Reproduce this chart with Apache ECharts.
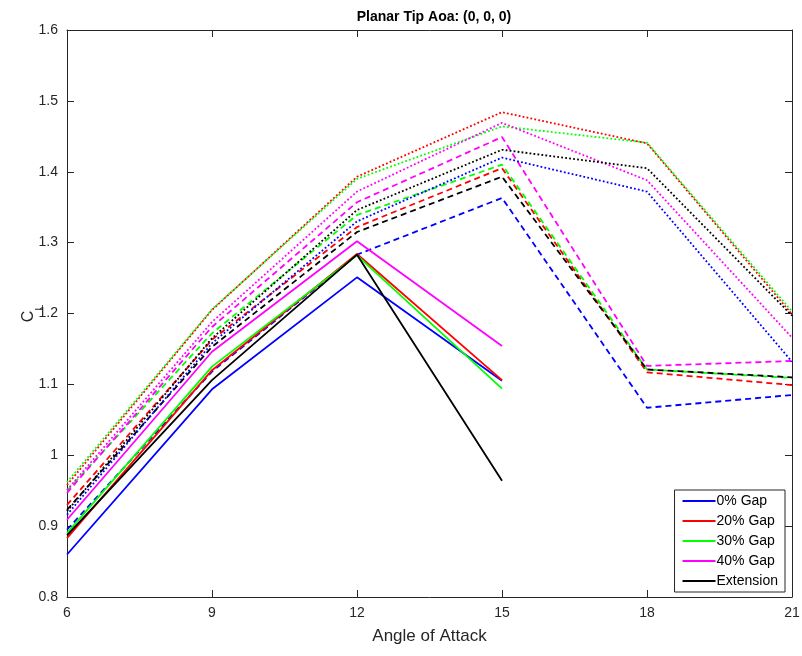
<!DOCTYPE html>
<html>
<head>
<meta charset="utf-8">
<script src="https://cdn.jsdelivr.net/npm/echarts@6/dist/echarts.min.js"></script>
<style>
  html, body { margin: 0; padding: 0; background: #fff; }
  #chart { width: 802px; height: 656px; }
</style>
</head>
<body>
<div id="chart"></div>
<script>
// angle of attack (deg)
var angles = [6, 9, 12, 15, 18, 21];

// solid lines (stop at 15 deg)
var gap0Solid  = [0.860, 1.093, 1.251, 1.105];
var gap20Solid = [0.883, 1.120, 1.284, 1.106];
var gap30Solid = [0.890, 1.125, 1.282, 1.094];
var gap40Solid = [0.909, 1.146, 1.302, 1.154];
var extSolid   = [0.887, 1.106, 1.283, 0.964];

// dashed lines
var gap0Dash  = [0.895, 1.118, 1.283, 1.363, 1.067, 1.085];
var gap20Dash = [0.930, 1.163, 1.322, 1.405, 1.117, 1.099];
var gap30Dash = [0.950, 1.172, 1.339, 1.410, 1.121, 1.109];
var gap40Dash = [0.947, 1.181, 1.357, 1.449, 1.126, 1.133];
var extDash   = [0.923, 1.153, 1.315, 1.393, 1.121, 1.110];

// dotted lines
var gap0Dot  = [0.916, 1.158, 1.330, 1.420, 1.372, 1.132];
var gap20Dot = [0.958, 1.205, 1.393, 1.484, 1.440, 1.199];
var gap30Dot = [0.962, 1.206, 1.390, 1.464, 1.441, 1.203];
var gap40Dot = [0.951, 1.188, 1.372, 1.469, 1.388, 1.166];
var extDot   = [0.921, 1.165, 1.346, 1.431, 1.405, 1.197];

var legendNames = ["0% Gap", "20% Gap", "30% Gap", "40% Gap", "Extension"];
var colors = ["#0000ff", "#ff0000", "#00ff00", "#ff00ff", "#000000"];

var FONT = "'Liberation Sans', Arial, Helvetica, sans-serif";
var AXIS_COLOR = "#262626";

function pairs(vals) {
  return vals.map(function (v, i) { return [angles[i], v]; });
}

function line(name, vals, color, dash) {
  return {
    name: name,
    type: "line",
    symbol: "none",
    silent: true,
    data: pairs(vals),
    itemStyle: { color: color },
    lineStyle: { color: color, width: 1.8, type: dash }
  };
}

var solids = [gap0Solid, gap20Solid, gap30Solid, gap40Solid, extSolid];
var dashes = [gap0Dash, gap20Dash, gap30Dash, gap40Dash, extDash];
var dots = [gap0Dot, gap20Dot, gap30Dot, gap40Dot, extDot];

var series = [];
dashes.forEach(function (d, i) {
  series.push(line(legendNames[i] + " dashed", d, colors[i], [6, 4]));
});
dots.forEach(function (d, i) {
  series.push(line(legendNames[i] + " dotted", d, colors[i], [1.8, 2.2]));
});
solids.forEach(function (d, i) {
  series.push(line(legendNames[i], d, colors[i], "solid"));
});

var myChart = echarts.init(document.getElementById("chart"));

var option = {
  animation: false,
  textStyle: { fontFamily: FONT },
  title: {
    text: "Planar Tip Aoa: (0, 0, 0)",
    left: 429,
    top: 5,
    textAlign: "center",
    textStyle: { fontFamily: FONT, fontSize: 14, fontWeight: "bold", color: "#000" }
  },
  grid: { left: 67, right: 10, top: 30, bottom: 59, outerBoundsMode: "none" },
  legend: {
    data: legendNames.map(function (n) {
      return { name: n, icon: "rect" };
    }),
    orient: "vertical",
    right: 17,
    bottom: 64,
    itemWidth: 33,
    itemHeight: 2,
    itemGap: 4,
    padding: [3, 7, 3, 8],
    borderColor: "#262626",
    borderWidth: 1,
    backgroundColor: "#fff",
    textStyle: { fontFamily: FONT, fontSize: 14, lineHeight: 16, color: "#000", padding: [0, 0, 0, -4] },
    selectedMode: false
  },
  xAxis: [
    {
      type: "value",
      min: 6,
      max: 21,
      interval: 3,
      name: "Angle of Attack",
      nameLocation: "middle",
      nameGap: 31,
      nameMoveOverlap: false,
      nameTextStyle: { fontFamily: FONT, fontSize: 17, color: "#262626" },
      axisLine: { lineStyle: { color: AXIS_COLOR } },
      axisTick: { inside: true, length: 7, lineStyle: { color: AXIS_COLOR } },
      axisLabel: { fontFamily: FONT, fontSize: 14, color: "#262626", margin: 9 },
      splitLine: { show: false }
    },
    {
      type: "value",
      position: "top",
      min: 6,
      max: 21,
      interval: 3,
      axisLine: { lineStyle: { color: AXIS_COLOR } },
      axisTick: { inside: true, length: 7, lineStyle: { color: AXIS_COLOR } },
      axisLabel: { show: false },
      splitLine: { show: false }
    }
  ],
  yAxis: [
    {
      type: "value",
      min: 0.8,
      max: 1.6,
      interval: 0.1,
      name: "{c|C}{l|L}",
      nameLocation: "middle",
      nameGap: 22,
      nameMoveOverlap: false,
      nameTextStyle: {
        rich: {
          c: { fontFamily: FONT, fontSize: 16, color: "#262626", lineHeight: 24, verticalAlign: "top" },
          l: { fontFamily: FONT, fontSize: 11, color: "#262626", lineHeight: 24, verticalAlign: "bottom" }
        }
      },
      axisLine: { show: true, lineStyle: { color: AXIS_COLOR } },
      axisTick: { show: true, inside: true, length: 7, lineStyle: { color: AXIS_COLOR } },
      axisLabel: {
        fontFamily: FONT,
        fontSize: 14,
        color: "#262626",
        margin: 9,
        formatter: function (v) { return String(+v.toFixed(1)); }
      },
      splitLine: { show: false }
    },
    {
      type: "value",
      position: "right",
      min: 0.8,
      max: 1.6,
      interval: 0.1,
      axisLine: { show: true, lineStyle: { color: AXIS_COLOR } },
      axisTick: { show: true, inside: true, length: 7, lineStyle: { color: AXIS_COLOR } },
      axisLabel: { show: false },
      splitLine: { show: false }
    }
  ],
  series: series
};

myChart.setOption(option);
</script>
</body>
</html>
